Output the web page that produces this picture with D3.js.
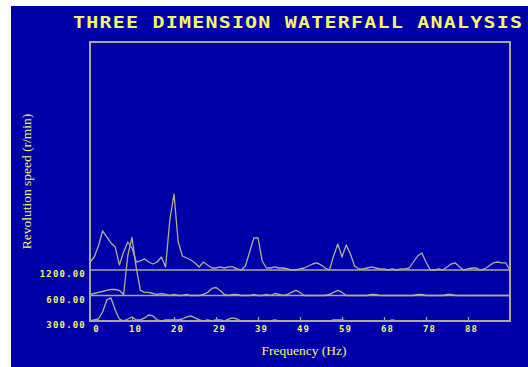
<!DOCTYPE html>
<html>
<head>
<meta charset="utf-8">
<script src="https://cdn.jsdelivr.net/npm/d3@7"></script>
<style>
  html, body { margin: 0; padding: 0; background: #ffffff; }
  svg { display: block; }
</style>
</head>
<body>
<svg id="chart" width="528" height="367"></svg>
<script>
// Spectrum lines: one amplitude per frequency bin, 100 bins of 0.9765625 Hz
const binWidth = 0.9765625;
const speeds = ["300.00", "600.00", "1200.00"];
const freqTicks = [0, 9.765625, 19.53125, 29.296875, 39.0625, 48.828125, 58.59375, 68.359375, 78.125, 87.890625];
const freqTickLabels = ["0", "10", "20", "29", "39", "49", "59", "68", "78", "88"];

const amp300 = [0, 0.13, 0.25, 1.13, 2.63, 2.88, 1.38, 0.25, 0, 0.25, 0.5, 0.13, 0.13, 0.38, 0.75, 0.63, 0.13, 0, 0.13, 0.13,
  0.13, 0.13, 0.25, 0.5, 0.63, 0.38, 0.13, 0, 0.13, 0, 0.13, 0.13, 0, 0.25, 0.38, 0.25, 0, 0, 0, 0,
  0, 0, 0, 0, 0.13, 0, 0, 0, 0, 0, 0, 0, 0, 0, 0, 0, 0, 0, 0.13, 0.13,
  0.13, 0, 0, 0, 0, 0, 0, 0, 0, 0, 0, 0, 0.13, 0, 0, 0, 0, 0, 0, 0,
  0, 0, 0, 0, 0, 0, 0, 0, 0, 0, 0, 0, 0, 0, 0, 0, 0, 0, 0, 0, 0];

const amp600 = [0.13, 0.25, 0.38, 0.5, 0.63, 0.75, 0.75, 0.63, 0.13, 5.0, 7.25, 3.5, 0.63, 0.38, 0.38, 0.25, 0.13, 0.25, 0.13, 0,
  0.13, 0, 0, 0.13, 0, 0, 0, 0.13, 0.38, 0.88, 1.0, 0.63, 0.13, 0, 0.13, 0.13, 0, 0, 0, 0.13,
  0, 0, 0.13, 0, 0.25, 0.13, 0, 0.13, 0.38, 0.63, 0.38, 0, 0, 0, 0, 0, 0, 0.13, 0.38, 0.63,
  0.38, 0, 0, 0, 0, 0, 0, 0.13, 0.13, 0, 0, 0, 0, 0, 0, 0, 0, 0, 0.13, 0.13,
  0, 0, 0, 0, 0, 0.13, 0.13, 0, 0, 0, 0, 0, 0, 0, 0, 0, 0, 0, 0, 0, 0];

const amp1200 = [1.0, 1.63, 3.0, 4.88, 4.13, 3.38, 2.88, 0.63, 2.25, 3.5, 2.75, 1.0, 1.13, 1.38, 1.0, 0.75, 1.0, 1.63, 0.38, 6.25,
  9.5, 3.5, 1.75, 1.5, 1.25, 0.88, 0.38, 1.0, 0.63, 0.25, 0.25, 0.38, 0.25, 0.38, 0.38, 0.13, 0, 0.5, 2.25, 4.0,
  4.0, 1.13, 0.25, 0.25, 0.38, 0.25, 0.25, 0.13, 0, 0, 0.13, 0.25, 0.5, 0.75, 0.88, 0.63, 0.25, 0, 1.75, 3.25,
  1.63, 3.13, 2.0, 0.5, 0.13, 0.13, 0.25, 0.38, 0.25, 0.13, 0.13, 0, 0.13, 0, 0.13, 0.13, 0.25, 1.0, 1.75, 2.13,
  1.0, 0, 0, 0.13, 0, 0.38, 0.75, 0.88, 0.38, 0, 0.13, 0.25, 0.25, 0, 0.13, 0.5, 0.88, 1.0, 0.88, 0.88, 0];

const spectra = [
  { speed: "300.00", values: amp300 },
  { speed: "600.00", values: amp600 },
  { speed: "1200.00", values: amp1200 }
];

const W = 528, H = 367;
const plot = { left: 90, right: 510, top: 42, bottom: 321 };
const textYellow = "#f4f46a";
const frameGray = "#a8a8a0";
const traceColor = "#b0b090";

const svg = d3.select("#chart");

// Screen background
svg.append("rect")
  .attr("x", 11).attr("y", 6)
  .attr("width", W - 11).attr("height", H - 6)
  .attr("fill", "#0000a8");

// Scales
const x = d3.scaleLinear().domain([0, 100 * binWidth]).range([plot.left, plot.right]);
const yBase = d3.scalePoint().domain(speeds).range([plot.bottom, 270]);
const amp = d3.scaleLinear().domain([0, 10]).range([0, 80]);

// Title: wide blocky capitals
const titleScale = 1.25;
svg.append("text")
  .attr("transform", `translate(73,27.5) scale(${titleScale},1)`)
  .attr("x", 0).attr("y", 0)
  .attr("textLength", 449 / titleScale).attr("lengthAdjust", "spacing")
  .attr("font-family", "'DejaVu Sans Mono', monospace")
  .attr("font-weight", "bold")
  .attr("font-size", 16)
  .attr("fill", textYellow)
  .text("THREE DIMENSION WATERFALL ANALYSIS");

// Frame
svg.append("rect")
  .attr("x", plot.left).attr("y", plot.top)
  .attr("width", plot.right - plot.left).attr("height", plot.bottom - plot.top)
  .attr("fill", "none")
  .attr("stroke", frameGray)
  .attr("stroke-width", 2);

// Baselines for each revolution speed
svg.append("g").selectAll("line")
  .data(speeds.slice(1))
  .join("line")
  .attr("x1", plot.left).attr("x2", plot.right)
  .attr("y1", d => yBase(d)).attr("y2", d => yBase(d))
  .attr("stroke", frameGray)
  .attr("stroke-width", 1.6);

// Frequency axis (ticks point into the frame)
const xAxis = d3.axisBottom(x)
  .tickValues(freqTicks)
  .tickSizeInner(-4)
  .tickSizeOuter(0)
  .tickPadding(0)
  .tickFormat((d, i) => freqTickLabels[i]);

const gx = svg.append("g")
  .attr("transform", `translate(0,${plot.bottom})`)
  .call(xAxis);
gx.select(".domain").remove();
gx.selectAll(".tick line").attr("stroke", frameGray).attr("stroke-width", 1.2);
gx.selectAll(".tick text")
  .attr("fill", textYellow)
  .attr("font-family", "'DejaVu Sans Mono', monospace")
  .attr("font-weight", "bold")
  .attr("font-size", 9)
  .attr("letter-spacing", 1.2)
  .attr("dy", null)
  .attr("y", 11)
  .attr("x", (d, i) => i === 0 ? 6 : 3);

// Speed labels
const yAxis = d3.axisLeft(yBase).tickSize(0).tickPadding(4);
const gy = svg.append("g")
  .attr("transform", `translate(${plot.left},0)`)
  .call(yAxis);
gy.select(".domain").remove();
gy.selectAll(".tick text")
  .attr("fill", textYellow)
  .attr("font-family", "'DejaVu Sans Mono', monospace")
  .attr("font-weight", "bold")
  .attr("font-size", 9)
  .attr("letter-spacing", 1.2)
  .attr("dy", null)
  .attr("y", 6.5);

// Spectrum traces
const line = d3.line()
  .x((d, i) => x(i * binWidth));

svg.append("g").selectAll("path")
  .data(spectra)
  .join("path")
  .attr("d", s => line.y(v => yBase(s.speed) - amp(v))(s.values))
  .attr("fill", "none")
  .attr("stroke", traceColor)
  .attr("stroke-width", 1.3)
  .attr("stroke-linejoin", "round");

// Axis titles
svg.append("text")
  .attr("x", 304).attr("y", 355)
  .attr("text-anchor", "middle")
  .attr("font-family", "'Liberation Serif', 'Times New Roman', serif")
  .attr("font-size", 13.5)
  .attr("fill", textYellow)
  .text("Frequency (Hz)");

svg.append("text")
  .attr("transform", "translate(31,181.5) rotate(-90)")
  .attr("text-anchor", "middle")
  .attr("font-family", "'Liberation Serif', 'Times New Roman', serif")
  .attr("font-size", 13.5)
  .attr("fill", textYellow)
  .text("Revolution speed (r/min)");
</script>
</body>
</html>
